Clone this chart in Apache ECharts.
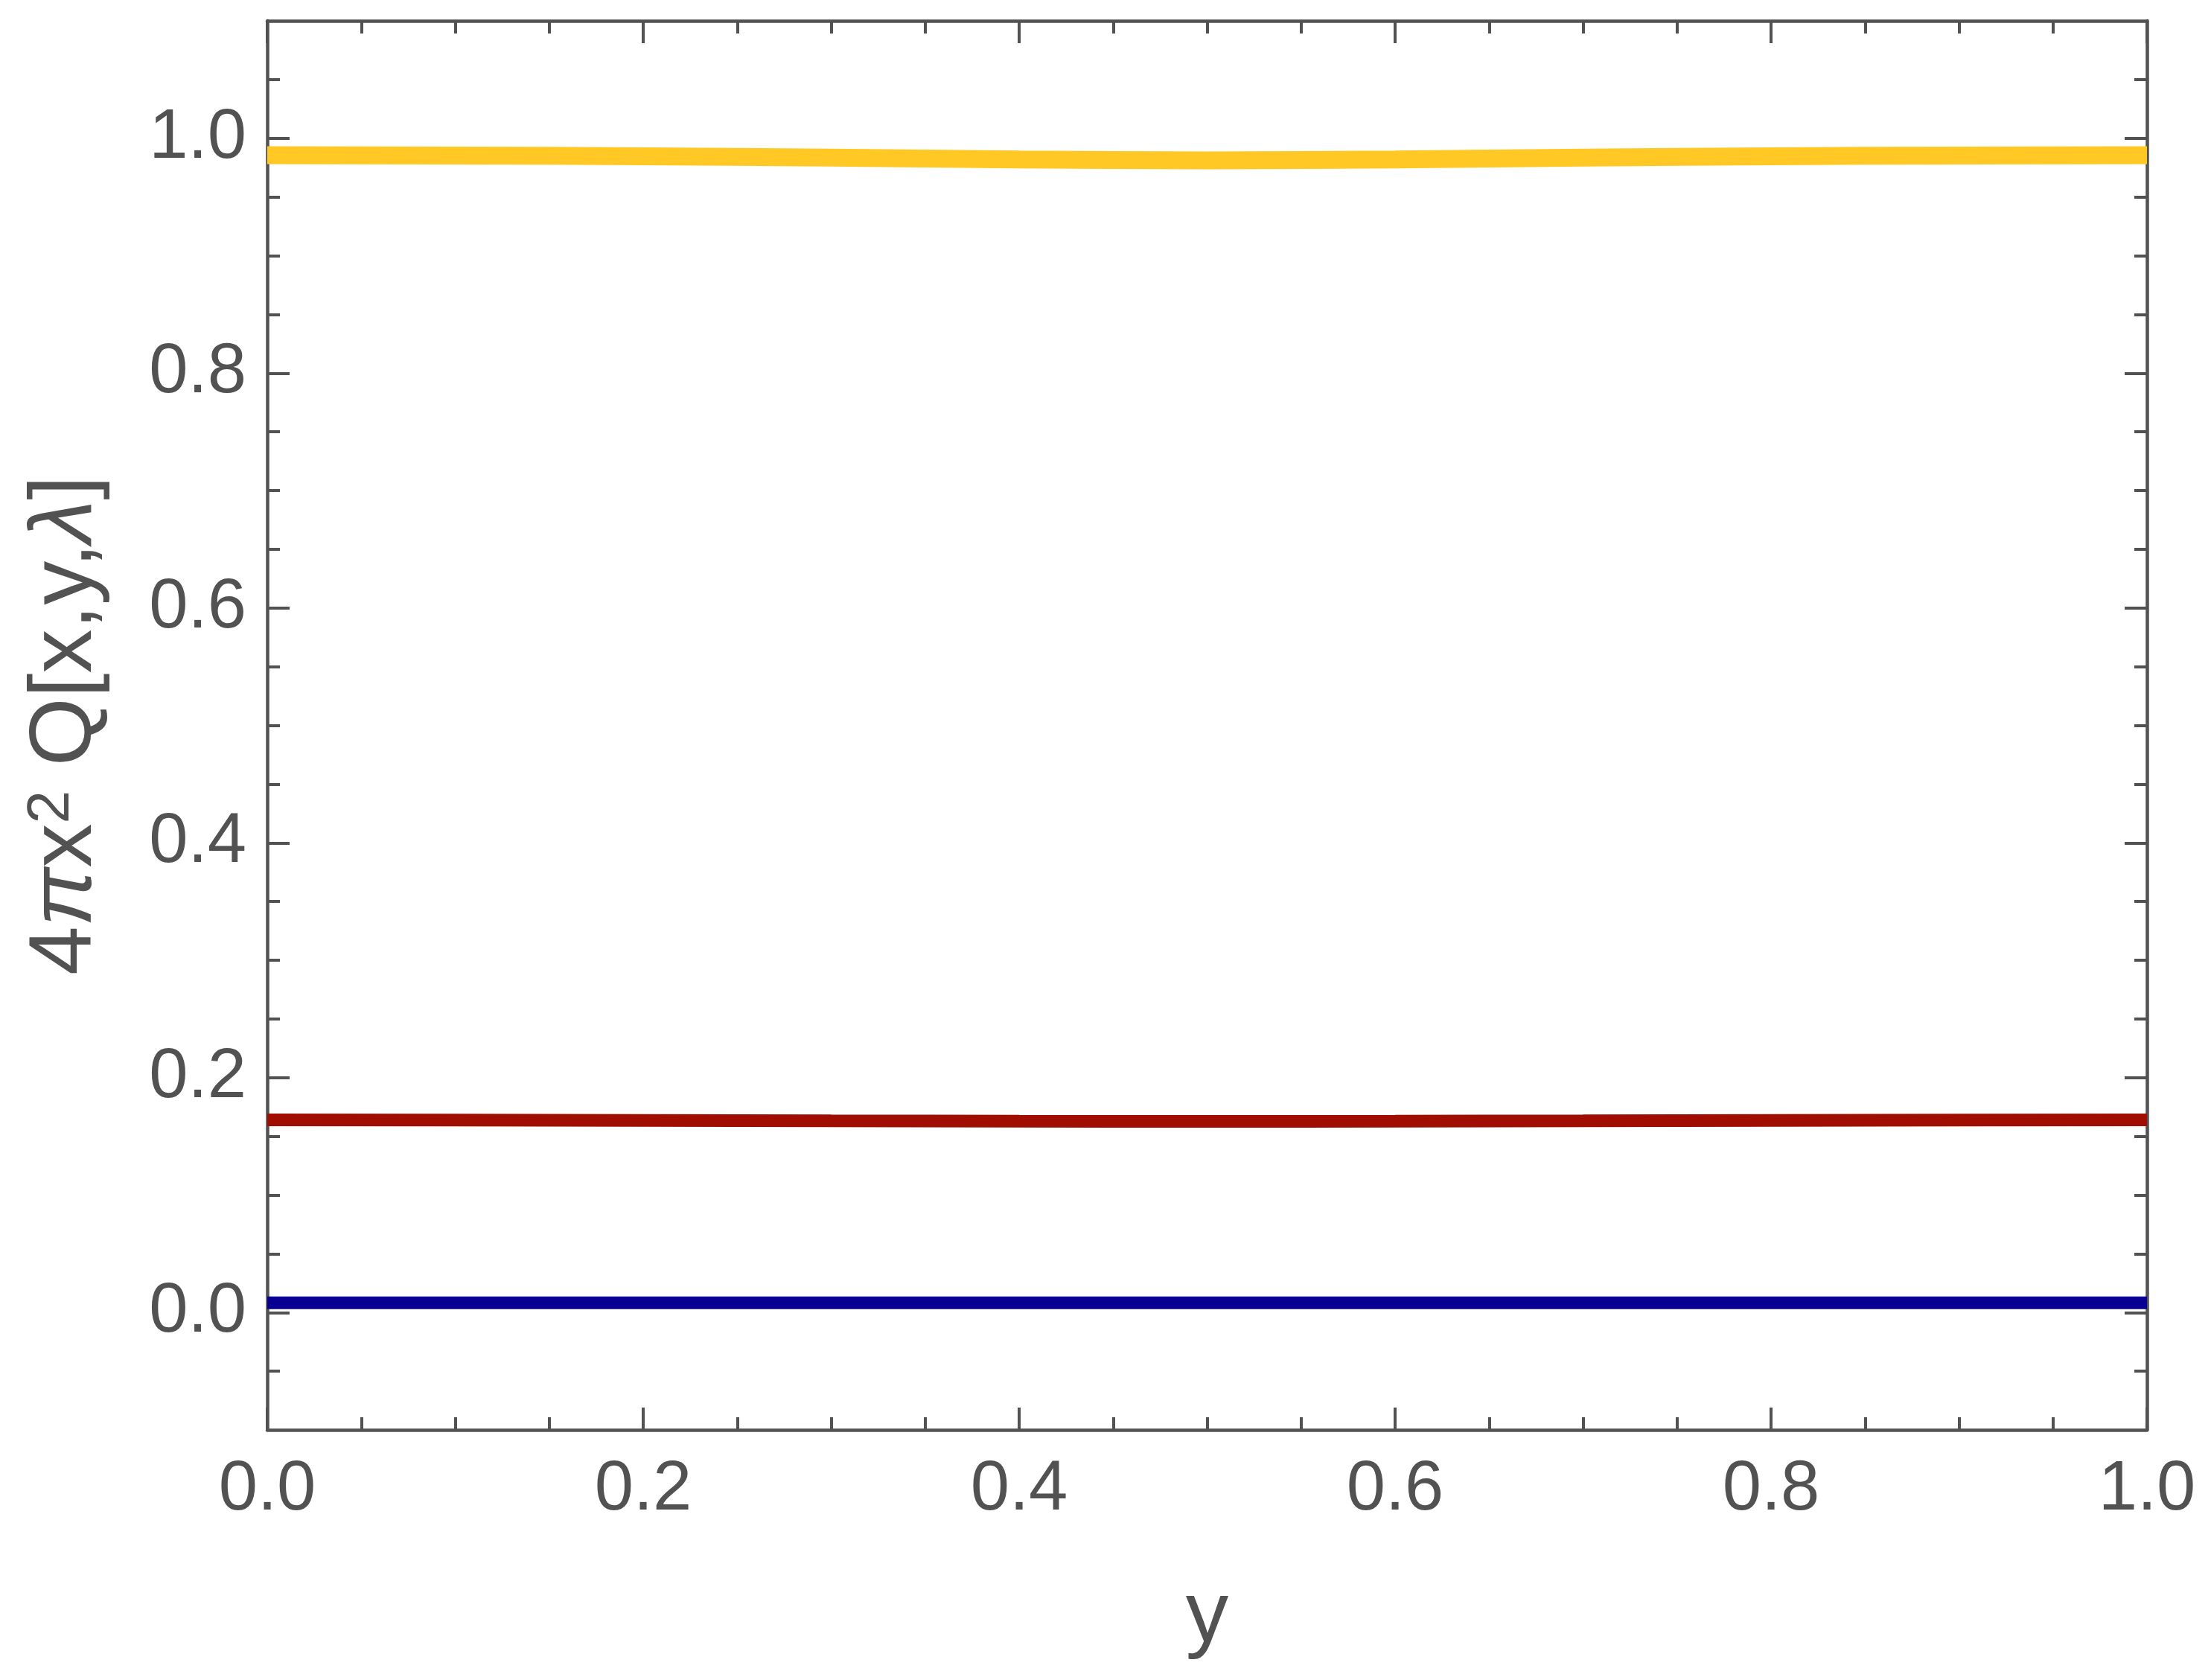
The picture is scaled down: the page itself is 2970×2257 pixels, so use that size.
<!DOCTYPE html>
<html>
<head>
<meta charset="utf-8">
<script src="https://cdn.jsdelivr.net/npm/echarts@6/dist/echarts.min.js"></script>
<style>
html, body { margin: 0; padding: 0; background: #ffffff; }
#chart { width: 2970px; height: 2257px; }
</style>
</head>
<body>
<div id="chart"></div>
<script>
// y 取值
var yValues = [0.0, 0.1, 0.2, 0.3, 0.4, 0.5, 0.6, 0.7, 0.8, 0.9, 1.0];
// 三条曲线
var yellowLine = [0.9855, 0.9853, 0.9847, 0.9835, 0.9820, 0.9812, 0.9820, 0.9835, 0.9847, 0.9853, 0.9855];
var redLine = [0.1640, 0.1639, 0.1636, 0.1632, 0.1629, 0.1628, 0.1629, 0.1632, 0.1636, 0.1639, 0.1640];
var blueLine = [0.0082, 0.0082, 0.0082, 0.0082, 0.0082, 0.0082, 0.0082, 0.0082, 0.0082, 0.0082, 0.0082];
// 纵轴刻度
var yMajorTicks = [0.0, 0.2, 0.4, 0.6, 0.8, 1.0];
var yMinorTicks = [-0.05, 0.05, 0.1, 0.15, 0.25, 0.3, 0.35, 0.45, 0.5, 0.55, 0.65, 0.7, 0.75, 0.85, 0.9, 0.95, 1.05];

var axisColor = '#525252';
var font = 'Liberation Sans';

function pairs(xs, ys) {
	var out = [];
	for (var i = 0; i < xs.length; i++) {
		out.push([xs[i], ys[i]]);
	}
	return out;
}

function makeXAxis(pos, labels) {
	return {
		type : 'value',
		position : pos,
		min : 0,
		max : 1,
		interval : 0.2,
		axisLine : { show : true, onZero : false, lineStyle : { color : axisColor, width : 4.5 } },
		axisTick : { show : true, inside : true, length : 30, lineStyle : { color : axisColor, width : 4 } },
		minorTick : { show : true, splitNumber : 4, length : 17, lineStyle : { color : axisColor, width : 4 } },
		splitLine : { show : false },
		axisLabel : {
			show : labels,
			margin : 34,
			color : axisColor,
			fontFamily : font,
			fontSize : 94,
			formatter : function(v) { return v.toFixed(1); }
		}
	};
}

function makeYAxis(pos, ticks, len, line, labels) {
	return {
		type : 'value',
		position : pos,
		min : -0.1,
		max : 1.1,
		interval : 0.05,
		axisLine : { show : line, onZero : false, lineStyle : { color : axisColor, width : 4.5 } },
		axisTick : { show : true, inside : true, length : len, customValues : ticks, lineStyle : { color : axisColor, width : 4 } },
		splitLine : { show : false },
		axisLabel : {
			show : labels,
			customValues : yMajorTicks,
			margin : 28,
			color : axisColor,
			fontFamily : font,
			fontSize : 94,
			formatter : function(v) { return v.toFixed(1); }
		}
	};
}

var chart = echarts.init(document.getElementById('chart'));

var xBottom = makeXAxis('bottom', true);
xBottom.name = 'y';
xBottom.nameLocation = 'middle';
xBottom.nameGap = 195;
xBottom.nameTextStyle = { color : axisColor, fontFamily : font, fontSize : 115 };

var yLeft = makeYAxis('left', yMajorTicks, 30, true, true);
yLeft.name = '{a|4}{b|π}{a|x}{s|2}{a| Q[x,y,}{b|λ}{a|]}';
yLeft.nameLocation = 'middle';
yLeft.nameRotate = 90;
yLeft.nameGap = 211;
yLeft.nameTextStyle = {
	color : axisColor,
	fontFamily : font,
	fontSize : 115,
	rich : {
		a : { color : axisColor, fontFamily : font, fontSize : 118, lineHeight : 118 },
		b : { color : axisColor, fontFamily : font, fontSize : 118, lineHeight : 118, fontStyle : 'italic' },
		s : { color : axisColor, fontFamily : font, fontSize : 80, lineHeight : 118, verticalAlign : 'top' }
	}
};

var option = {
	backgroundColor : '#ffffff',
	animation : false,
	grid : {
		left : 359,
		right : 86,
		top : 28,
		bottom : 336
	},
	xAxis : [ xBottom, makeXAxis('top', false) ],
	yAxis : [
		yLeft,
		makeYAxis('left', yMinorTicks, 17, false, false),
		makeYAxis('right', yMajorTicks, 30, true, false),
		makeYAxis('right', yMinorTicks, 17, false, false)
	],
	series : [ {
		type : 'line',
		smooth : true,
		showSymbol : false,
		data : pairs(yValues, blueLine),
		lineStyle : { color : '#070093', width : 17 }
	}, {
		type : 'line',
		smooth : true,
		showSymbol : false,
		data : pairs(yValues, redLine),
		lineStyle : { color : '#9f0e00', width : 17 }
	}, {
		type : 'line',
		smooth : true,
		showSymbol : false,
		data : pairs(yValues, yellowLine),
		lineStyle : { color : '#ffc824', width : 24 }
	} ]
};

chart.setOption(option);
</script>
</body>
</html>
